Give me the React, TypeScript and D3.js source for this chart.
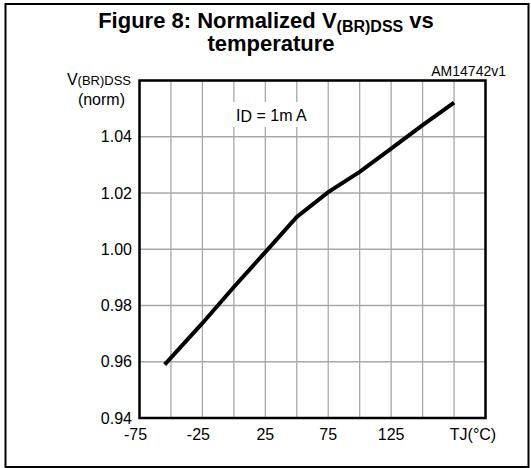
import React from "react";
import * as d3 from "d3";

const temps = [-55, -25, 0, 25, 50, 75, 100, 125, 150, 175];
const vnorm = [0.959, 0.9737, 0.9866, 0.999, 1.0115, 1.0203, 1.0275, 1.0358, 1.0441, 1.0521];
const xTicks = [-75, -25, 25, 75, 125];
const xGrid = d3.range(-75, 201, 25);
const yTicks = [0.94, 0.96, 0.98, 1.0, 1.02, 1.04];
const yGrid = [0.94, 0.96, 0.98, 1.0, 1.02, 1.04, 1.06];

const W = 531;
const H = 468;
const plot = { left: 139.5, right: 485.5, top: 80.5, bottom: 418 };

export default function App() {
  const x = d3.scaleLinear().domain([-75, 200]).range([plot.left, plot.right]);
  const y = d3.scaleLinear().domain([0.94, 1.06]).range([plot.bottom, plot.top]);
  const line = d3
    .line<number>()
    .x((_, i) => x(temps[i]))
    .y((d) => y(d));
  const font = "'Liberation Sans', Arial, Helvetica, sans-serif";
  return (
    <svg
      width={W}
      height={H}
      style={{ position: "absolute", left: 0, top: 0, background: "#fff" }}
      fontFamily={font}
    >
      <rect x={5.5} y={4} width={523} height={463} fill="#fff" stroke="#000" strokeWidth={2} />
      <text x={266} y={28} textAnchor="middle" fontSize={22} fontWeight="bold">
        Figure 8: Normalized V
        <tspan fontSize={16} dy={4}>(BR)DSS</tspan>
        <tspan dy={-4}> vs</tspan>
      </text>
      <text x={271} y={51} textAnchor="middle" fontSize={22} fontWeight="bold">
        temperature
      </text>
      <text x={506} y={76} textAnchor="end" fontSize={14}>
        AM14742v1
      </text>
      <text x={131} y={85} textAnchor="end" fontSize={16}>
        V<tspan fontSize={13}>(BR)DSS</tspan>
      </text>
      <text x={125} y={105} textAnchor="end" fontSize={16}>
        (norm)
      </text>
      {xGrid.map((t) => (
        <line key={"gx" + t} x1={x(t)} x2={x(t)} y1={plot.top} y2={plot.bottom} stroke="#a8a8a8" strokeWidth={1.3} />
      ))}
      {yGrid.map((v) => (
        <line key={"gy" + v} x1={plot.left} x2={plot.right} y1={y(v)} y2={y(v)} stroke="#a8a8a8" strokeWidth={1.3} />
      ))}
      <rect x={231} y={102} width={72} height={25} fill="#fff" />
      <text x={236} y={121} fontSize={16}>
        I<tspan dy={1}>D</tspan>
        <tspan dy={-1}> = 1m A</tspan>
      </text>
      <path d={line(vnorm) || ""} fill="none" stroke="#000" strokeWidth={4} />
      <rect
        x={plot.left}
        y={plot.top}
        width={plot.right - plot.left}
        height={plot.bottom - plot.top}
        fill="none"
        stroke="#000"
        strokeWidth={2.5}
      />
      {yTicks.map((v) => (
        <text key={"yt" + v} x={132} y={y(v) + 5.5} textAnchor="end" fontSize={16}>
          {v.toFixed(2)}
        </text>
      ))}
      {xTicks.map((t) => (
        <text key={"xt" + t} x={x(t) + (t < 0 ? -4 : 0)} y={440} textAnchor="middle" fontSize={16}>
          {String(t)}
        </text>
      ))}
      <text x={473} y={440} textAnchor="middle" fontSize={16}>
        TJ(°C)
      </text>
    </svg>
  );
}
